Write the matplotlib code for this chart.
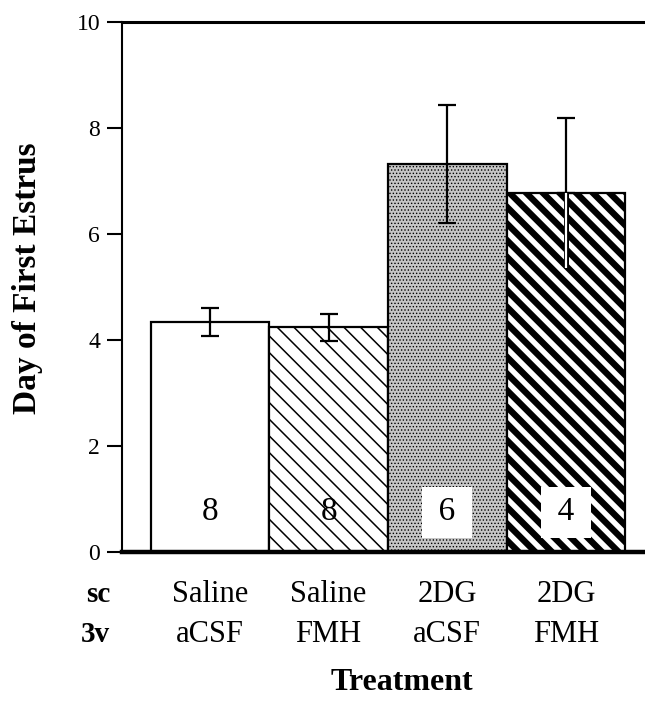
import matplotlib
matplotlib.use("Agg")
import matplotlib.pyplot as plt
import matplotlib.transforms as mtransforms

plt.rcParams['font.family'] = ['Liberation Serif', 'DejaVu Serif']
plt.rcParams['hatch.linewidth'] = 1.0

# Data
sc_labels = ["Saline", "Saline", "2DG", "2DG"]
v3_labels = ["aCSF", "FMH", "aCSF", "FMH"]
means = [4.34, 4.24, 7.32, 6.77]
sems = [0.26, 0.25, 1.12, 1.42]
n_labels = ["8", "8", "6", "4"]
yticks = [0, 2, 4, 6, 8, 10]

fig = plt.figure(figsize=(6.45, 7.01), dpi=100)
ax = fig.add_axes([122/645, 1-552/701, 1-122/645, 530/701])

x = list(range(len(means)))
styles = [
    dict(facecolor='white', hatch=None, hlw=None),
    dict(facecolor='white', hatch='\\\\', hlw=1.1),
    dict(facecolor='#c6c6c6', hatch='.....', hlw=0.6),
    dict(facecolor='white', hatch='\\\\', hlw=4.6),
]
for xi, m, st in zip(x, means, styles):
    bars = ax.bar(xi, m, width=1.0, facecolor=st['facecolor'], edgecolor='black',
                  linewidth=1.6, hatch=st['hatch'], zorder=2)
    for p in bars:
        if st['hlw'] is not None and hasattr(p, 'set_hatch_linewidth'):
            p.set_hatch_linewidth(st['hlw'])

# error bars: last bar's lower whisker is drawn separately (white core line)
lower = [s if i < len(sems) - 1 else 0 for i, s in enumerate(sems)]
ax.errorbar(x, means, yerr=[lower, sems], fmt='none', ecolor='black', elinewidth=1.6,
            capsize=6.5, capthick=1.6, zorder=3)
ax.vlines(x[-1], means[-1] - sems[-1], means[-1], colors='black', linewidth=3.6, zorder=3)
ax.vlines(x[-1], means[-1] - sems[-1], means[-1], colors='white', linewidth=1.6, zorder=3.1)

for xi, lab in zip(x, n_labels):
    if xi >= 2:
        ax.text(xi, 0.75, "\u2009" + lab + "\u2009", ha='center', va='center', fontsize=24, zorder=4,
                bbox=dict(boxstyle='square,pad=0.3', facecolor='white', edgecolor='none'))
    else:
        ax.text(xi, 0.75, lab, ha='center', va='center', fontsize=24, zorder=4)

ax.set_xlim(-0.741, 3.666)
ax.set_ylim(0, 10)
ax.set_yticks(yticks)
ax.set_yticklabels([str(t) for t in yticks], fontsize=17)
ax.set_xticks([])
ax.tick_params(axis='y', direction='out', length=10.8, width=1.5, pad=5)

ax.spines['right'].set_visible(False)
ax.spines['top'].set_linewidth(2.2)
ax.spines['left'].set_linewidth(1.5)
ax.spines['bottom'].set_linewidth(3.2)

trans = mtransforms.blended_transform_factory(ax.transData, fig.transFigure)
y1 = 1 - 594/701
y2 = 1 - 634/701
for xi, a, b in zip(x, sc_labels, v3_labels):
    ax.text(xi, y1, a, transform=trans, ha='center', va='center', fontsize=22)
    ax.text(xi, y2, b, transform=trans, ha='center', va='center', fontsize=22)

fig.text(110/645, y1, "sc", ha='right', va='center', fontsize=21, fontweight='bold')
fig.text(110/645, y2, "3v", ha='right', va='center', fontsize=21, fontweight='bold')
fig.text(402/645, 1 - 683/701, "Treatment", ha='center', va='center', fontsize=23, fontweight='bold')
fig.text(28/645, 1 - 278/701, "Day of First Estrus", ha='center', va='center', rotation=90,
         fontsize=24, fontweight='bold')

fig.savefig("out.png", dpi=100)
